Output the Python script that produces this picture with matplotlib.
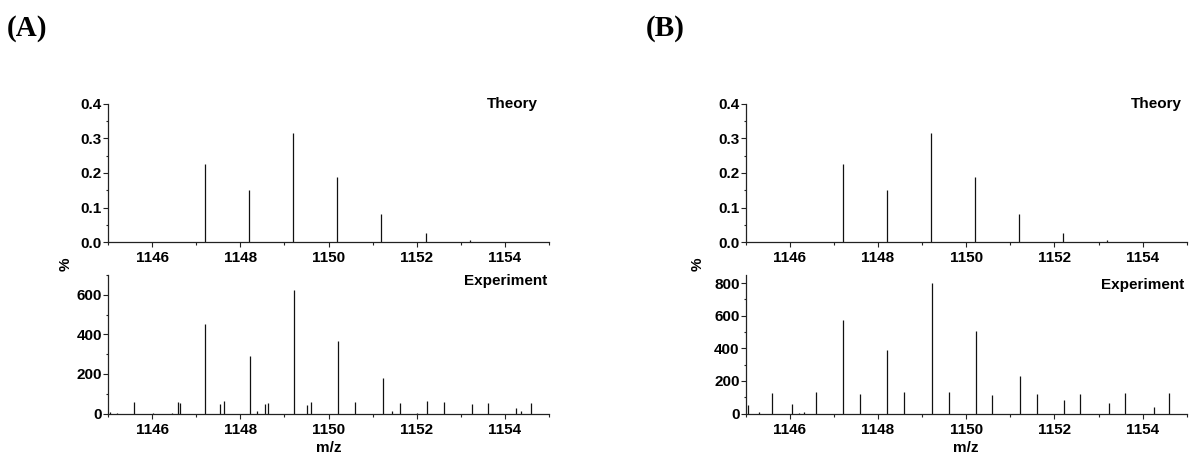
import matplotlib
matplotlib.use("Agg")
import matplotlib.pyplot as plt
from matplotlib.ticker import MultipleLocator

plt.rcParams['font.family'] = ['Liberation Sans', 'DejaVu Sans']
plt.rcParams['font.weight'] = 'bold'

# Theoretical isotope distribution (shared by both panels)
theory_mz = [1147.2, 1148.2, 1149.2, 1150.2, 1151.2, 1152.2, 1153.2]
theory_int = [0.225, 0.150, 0.315, 0.188, 0.082, 0.027, 0.006]

# Measured spectrum, panel A
exp_a_mz = [1145.05, 1145.2, 1145.6, 1146.03, 1146.46, 1146.58, 1146.64, 1147.2,
            1147.55, 1147.62, 1148.21, 1148.38, 1148.56, 1148.63, 1149.21,
            1149.52, 1149.61, 1150.22, 1150.61, 1151.23, 1151.43, 1151.61,
            1152.0, 1152.23, 1152.61, 1153.25, 1153.61, 1154.25, 1154.36, 1154.6]
exp_a_int = [6, 3, 56, 5, 5, 56, 55, 453,
             47, 62, 291, 12, 49, 52, 624,
             44, 59, 365, 56, 181, 12, 51,
             5, 63, 56, 49, 52, 29, 12, 52]

# Measured spectrum, panel B
exp_b_mz = [1145.05, 1145.31, 1145.6, 1146.04, 1146.2, 1146.33, 1146.59, 1147.2,
            1147.59, 1148.21, 1148.58, 1149.22, 1149.6, 1150.22, 1150.59,
            1151.22, 1151.61, 1152.22, 1152.59, 1153.24, 1153.6, 1154.25, 1154.6]
exp_b_int = [51, 10, 127, 59, 4, 10, 131, 572,
             117, 390, 129, 800, 135, 507, 111,
             232, 117, 84, 117, 62, 127, 37, 127]

x_range = (1145, 1155)
x_ticks = [1146, 1148, 1150, 1152, 1154]
FS = 11

fig = plt.figure(figsize=(11.9, 4.59), dpi=100)
W, H = 1190, 459


def add_axes(left, top, right, bottom):
    return fig.add_axes([left / W, 1 - bottom / H, (right - left) / W, (bottom - top) / H])


def style(ax, ymax, ymajor, yminor, fmt):
    ax.set_xlim(*x_range)
    ax.set_ylim(0, ymax)
    ax.set_xticks(x_ticks)
    ax.xaxis.set_minor_locator(MultipleLocator(1))
    ax.yaxis.set_major_locator(MultipleLocator(ymajor))
    ax.yaxis.set_minor_locator(MultipleLocator(yminor))
    ax.yaxis.set_major_formatter(fmt)
    for s in ('top', 'right'):
        ax.spines[s].set_visible(False)
    for s in ('left', 'bottom'):
        ax.spines[s].set_linewidth(0.9)
        ax.spines[s].set_color('#222222')
    ax.tick_params(which='major', direction='out', length=3.3, width=0.8,
                   labelsize=FS, color='#222222')
    ax.tick_params(which='minor', direction='out', length=1.8, width=0.8, color='#222222')
    ax.tick_params(axis='y', pad=1.0)
    ax.tick_params(axis='x', pad=3.5)
    for lab in ax.get_xticklabels() + ax.get_yticklabels():
        lab.set_fontweight('bold')


panels = [
    (108, exp_a_mz, exp_a_int, 700, 0),
    (745.7, exp_b_mz, exp_b_int, 850, 1),
]

for left, emz, eint, ymax, i in panels:
    right = left + 441
    ax_t = add_axes(left, 104, right, 242)
    ax_t.vlines(theory_mz, 0, theory_int, color='#111111', linewidth=0.9)
    style(ax_t, 0.4, 0.1, 0.05, '{x:.1f}')
    ax_t.text(0.975 if i == 0 else 0.99, 1.0, 'Theory', transform=ax_t.transAxes,
              ha='right', va='center', fontsize=FS, fontweight='bold')

    ax_e = add_axes(left, 275, right, 413.5)
    ax_e.vlines(emz, 0, eint, color='#111111', linewidth=0.9)
    style(ax_e, ymax, 200, 100, '{x:.0f}')
    ax_e.text(0.995, 0.96 if i == 0 else 0.93, 'Experiment', transform=ax_e.transAxes,
              ha='right', va='center', fontsize=FS, fontweight='bold')
    ax_e.set_xlabel('m/z', fontsize=FS, fontweight='bold', labelpad=3)

    pct_x = (66 if i == 0 else 698) / W
    fig.text(pct_x, 1 - 264 / H, '%', rotation=90, ha='center', va='center',
             fontsize=FS, fontweight='bold')

fig.text(7 / W, 1 - 29 / H, '(A)', ha='left', va='center', fontsize=21,
         fontweight='bold', family=['Liberation Serif', 'DejaVu Serif'])
fig.text(646 / W, 1 - 29 / H, '(B)', ha='left', va='center', fontsize=21,
         fontweight='bold', family=['Liberation Serif', 'DejaVu Serif'])

fig.savefig('out.png', dpi=100)
